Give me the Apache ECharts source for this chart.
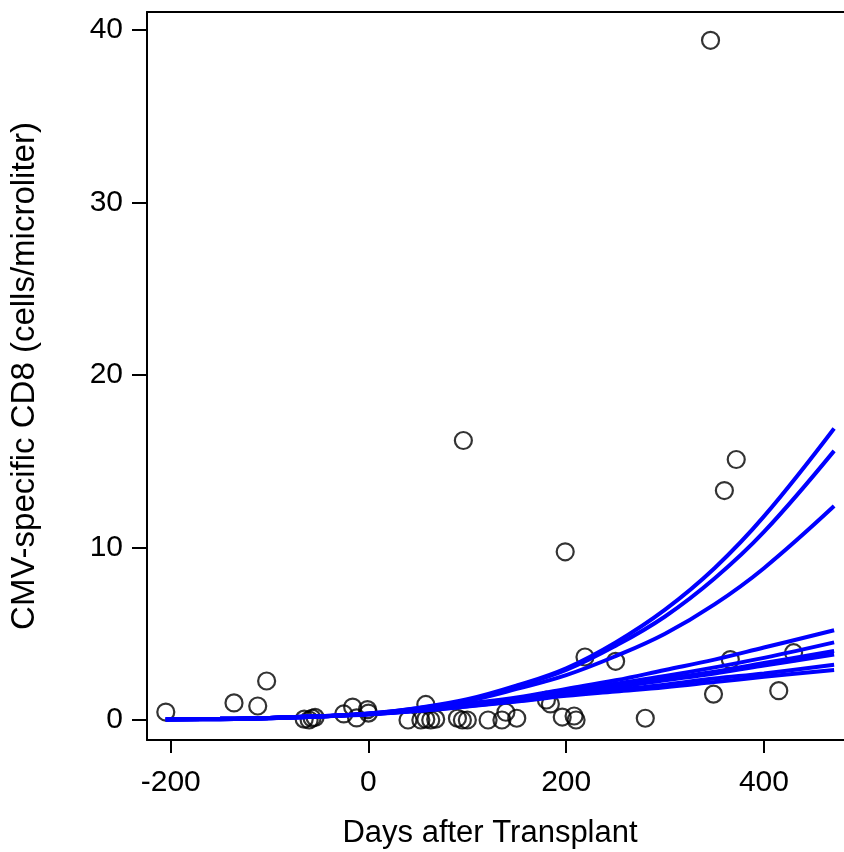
<!DOCTYPE html>
<html>
<head>
<meta charset="utf-8">
<script src="https://cdn.jsdelivr.net/npm/echarts@6/dist/echarts.min.js"></script>
<style>html,body{margin:0;padding:0;background:#fff}#c{width:844px;height:852px}</style>
</head>
<body>
<div id="c"></div>
<script>
// Observed points: days after transplant, CMV-specific CD8 (cells/microliter)
const pointDays = [-205,-136,-112,-103,-65,-60,-57,-54,-25,-16,-12,-1,0,40,53,58,58,63,68,90,95,100,121,135,139,150,180,184,196,208,210,219,250,280,346,349,360,366,372,415,430,96,199];
const pointVals = [0.46,0.99,0.81,2.26,0.05,0.0,0.1,0.15,0.35,0.75,0.12,0.6,0.4,0.0,0.0,0.05,0.9,0.0,0.05,0.1,0.0,0.0,0.0,0.0,0.45,0.1,1.16,0.93,0.17,0.23,0.0,3.65,3.4,0.1,39.4,1.5,13.3,3.5,15.1,1.7,3.9,16.2,9.75];

// Fitted curves, read at these days
const curveDays = [-205,-150,-100,-50,0,50,100,150,200,250,300,350,400,471];
const curveA = [0.03,0.05,0.1,0.2,0.38,0.7,1.2,2.0,3.0,4.5,6.4,8.8,11.8,16.9];
const curveB = [0.03,0.05,0.1,0.2,0.37,0.68,1.15,1.95,2.9,4.3,6.0,8.2,10.9,15.6];
const curveC = [0.03,0.05,0.1,0.2,0.36,0.65,1.1,1.8,2.6,3.7,5.0,6.7,8.8,12.4];
const curveD = [0.05,0.07,0.12,0.22,0.35,0.6,0.95,1.3,1.8,2.3,2.9,3.5,4.2,5.2];
const curveE = [0.05,0.07,0.12,0.22,0.35,0.58,0.9,1.25,1.65,2.1,2.55,3.05,3.6,4.5];
const curveF = [0.05,0.07,0.12,0.22,0.34,0.56,0.87,1.2,1.6,2.0,2.4,2.8,3.3,4.0];
const curveG = [0.05,0.07,0.12,0.22,0.34,0.55,0.85,1.17,1.55,1.9,2.3,2.7,3.15,3.8];
const curveH = [0.05,0.07,0.12,0.22,0.33,0.53,0.8,1.1,1.45,1.75,2.05,2.4,2.7,3.2];
const curveI = [0.05,0.07,0.12,0.21,0.32,0.52,0.78,1.07,1.4,1.65,1.9,2.2,2.5,2.9];
const curves = [curveA,curveB,curveC,curveD,curveE,curveF,curveG,curveH,curveI];

const xTicks = [-200,0,200,400];
const yTicks = [0,10,20,30,40];

const FONT = '"Liberation Sans", Arial, sans-serif';
const chart = echarts.init(document.getElementById('c'), null, {renderer:'canvas'});

const series = [{
  type:'scatter',
  data: pointDays.map((d,i)=>[d,pointVals[i]]),
  symbol:'circle', symbolSize:17,
  itemStyle:{color:'rgba(0,0,0,0)', borderColor:'#000', borderWidth:2.2},
  z:2, silent:true
}];
curves.forEach(c=>{
  series.push({
    type:'line', data: curveDays.map((d,i)=>[d,c[i]]),
    smooth:0.4, showSymbol:false, symbol:'none',
    lineStyle:{color:'#0000ff', width:4},
    z:3, silent:true
  });
});

chart.setOption({
  animation:false,
  backgroundColor:'#fff',
  grid:{left:143, top:12, width:705, height:728, containLabel:false},
  xAxis:[{
    type:'value', min:-224, max:481, position:'bottom',
    axisLine:{show:true, onZero:false, lineStyle:{color:'#000', width:2}},
    axisTick:{show:true, length:13, lineStyle:{color:'#000', width:2}, customValues:xTicks},
    axisLabel:{show:true, margin:28, fontSize:30, color:'#000', fontFamily:FONT, customValues:xTicks},
    splitLine:{show:false}
  },{
    type:'value', min:-224, max:481, position:'top',
    axisLine:{show:true, onZero:false, lineStyle:{color:'#000', width:2}},
    axisTick:{show:false}, axisLabel:{show:false}, splitLine:{show:false}
  }],
  yAxis:{
    type:'value', min:-1.16, max:41.04,
    axisLine:{show:true, onZero:false, lineStyle:{color:'#000', width:2}},
    axisTick:{show:true, length:15, lineStyle:{color:'#000', width:2}, customValues:yTicks},
    axisLabel:{show:true, margin:24, fontSize:30, color:'#000', fontFamily:FONT, customValues:yTicks},
    splitLine:{show:false},
    name:'CMV-specific CD8 (cells/microliter)', nameLocation:'middle', nameGap:106,
    nameTextStyle:{fontSize:33, color:'#000', fontFamily:FONT}
  },
  graphic:[{
    type:'text', x:490, y:833,
    style:{text:'Days after Transplant', textAlign:'center', textVerticalAlign:'middle', font:'31px ' + FONT, fill:'#000'}
  }],
  series: series
});
</script>
</body>
</html>
